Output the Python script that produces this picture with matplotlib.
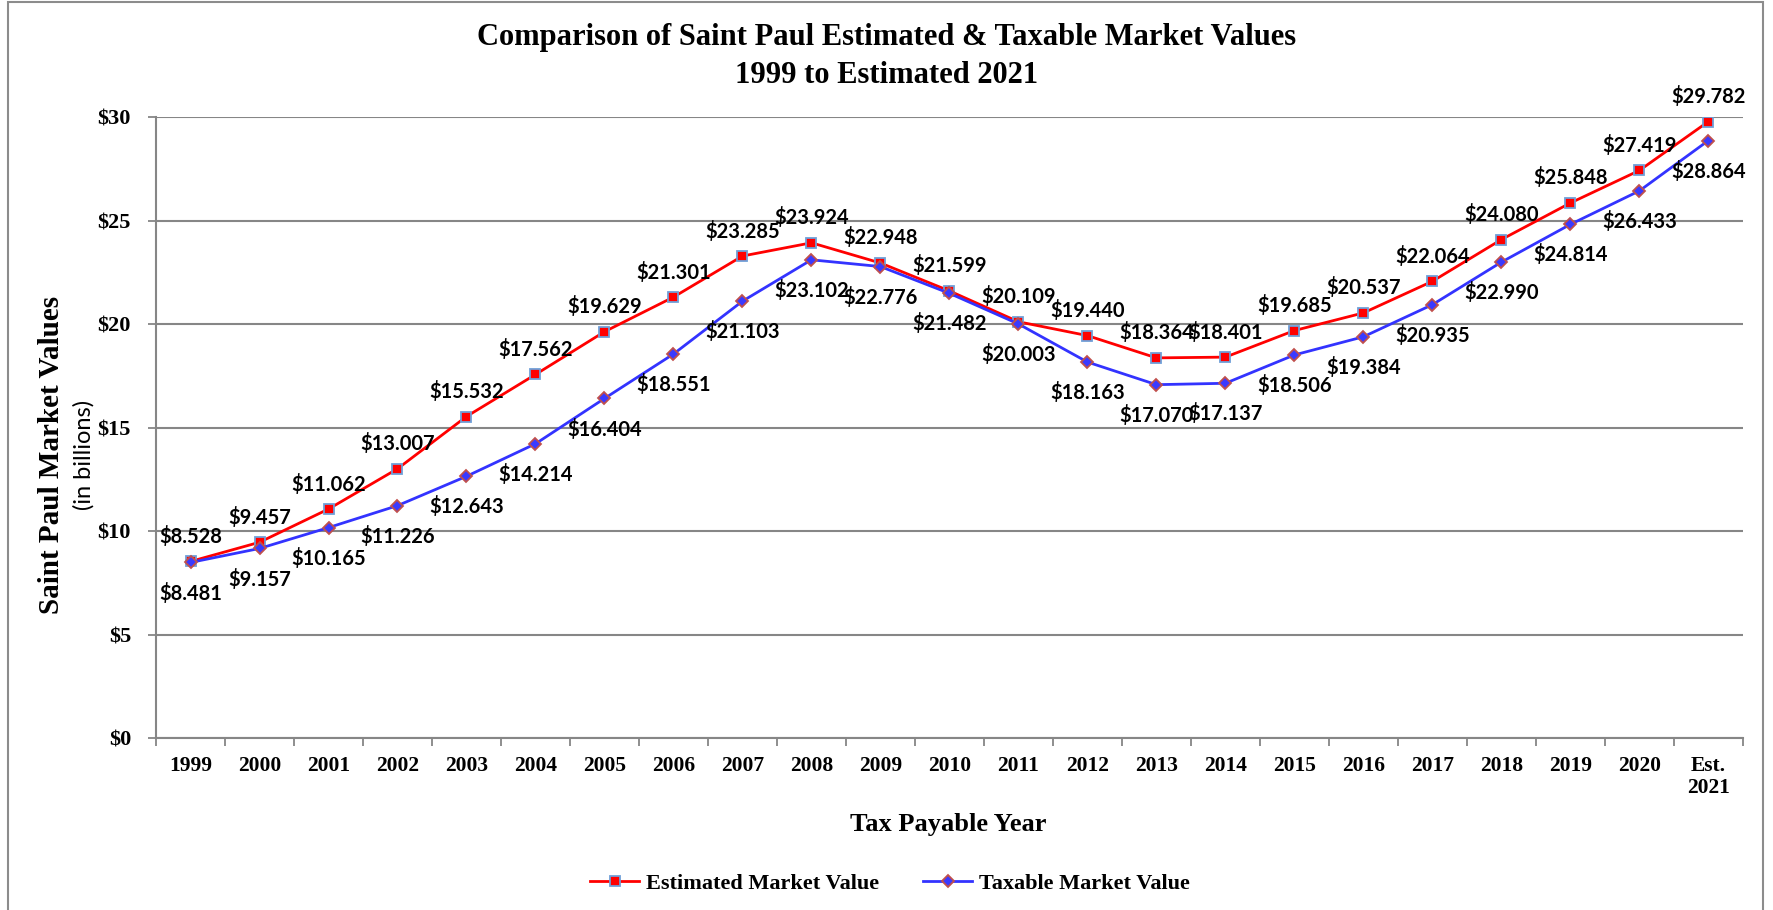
import matplotlib
matplotlib.use("Agg")
import matplotlib.pyplot as plt
from matplotlib.patches import Rectangle
import numpy as np

years = ["1999", "2000", "2001", "2002", "2003", "2004", "2005", "2006", "2007",
         "2008", "2009", "2010", "2011", "2012", "2013", "2014", "2015", "2016",
         "2017", "2018", "2019", "2020", "Est.\n2021"]
estimated = [8.528, 9.457, 11.062, 13.007, 15.532, 17.562, 19.629, 21.301, 23.285,
             23.924, 22.948, 21.599, 20.109, 19.440, 18.364, 18.401, 19.685, 20.537,
             22.064, 24.080, 25.848, 27.419, 29.782]
taxable = [8.481, 9.157, 10.165, 11.226, 12.643, 14.214, 16.404, 18.551, 21.103,
           23.102, 22.776, 21.482, 20.003, 18.163, 17.070, 17.137, 18.506, 19.384,
           20.935, 22.990, 24.814, 26.433, 28.864]
y_ticks = [0, 5, 10, 15, 20, 25, 30]

SERIF = "Liberation Serif"
SANS = "Lato"
GRID = "#868686"

fig = plt.figure(figsize=(17.73, 9.10), dpi=100)
ax = fig.add_axes([0.088, 0.189, 0.895, 0.6824])

x = np.arange(len(years))
ax.plot(x, estimated, color="#ff0000", lw=2, marker="s", markersize=7,
        markerfacecolor="#ff0000", markeredgecolor="#6f9fd8", markeredgewidth=1.3,
        label="Estimated Market Value", zorder=4)
ax.plot(x, taxable, color="#3333ff", lw=2, marker="D", markersize=6.5,
        markerfacecolor="#3a3aff", markeredgecolor="#c0504d", markeredgewidth=1.3,
        label="Taxable Market Value", zorder=5)

for xi, v in zip(x, estimated):
    ax.annotate(f"${v:.3f}", (xi, v), xytext=(0, 18), textcoords="offset points",
                ha="center", va="center", fontsize=14.5, fontweight="bold",
                family=SANS, color="black", zorder=6)
for xi, v in zip(x, taxable):
    ax.annotate(f"${v:.3f}", (xi, v), xytext=(0, -22), textcoords="offset points",
                ha="center", va="center", fontsize=14.5, fontweight="bold",
                family=SANS, color="black", zorder=6)

ax.set_xlim(-0.5, len(years) - 0.5)
ax.set_ylim(0, 30)
ax.set_yticks(y_ticks)
ax.set_yticklabels([f"${t}" for t in y_ticks], family=SERIF, fontweight="bold", fontsize=16)
ax.yaxis.grid(True, color=GRID, lw=1.5)
ax.set_axisbelow(True)

ax.set_xticks(np.arange(-0.5, len(years), 1.0))
ax.set_xticklabels([])
ax.set_xticks(x, minor=True)
ax.set_xticklabels(years, minor=True, family=SERIF, fontweight="bold", fontsize=15.5,
                   linespacing=1.1, va="top")
ax.tick_params(axis="x", which="major", length=6, width=1.3, color=GRID, direction="out")
ax.tick_params(axis="x", which="minor", length=0, pad=13)
ax.tick_params(axis="y", length=6, width=1.3, color=GRID, direction="out", pad=12)

for side in ("top", "right"):
    ax.spines[side].set_visible(False)
for side in ("left", "bottom"):
    ax.spines[side].set_color(GRID)
    ax.spines[side].set_linewidth(1.5)

fig.text(0.5, 0.959, "Comparison of Saint Paul Estimated & Taxable Market Values",
         ha="center", va="center", family=SERIF, fontweight="bold", fontsize=22)
fig.text(0.5, 0.917, "1999 to Estimated 2021",
         ha="center", va="center", family=SERIF, fontweight="bold", fontsize=22)

fig.text(0.029, 0.5, "Saint Paul Market Values", rotation=90, ha="center", va="center",
         family=SERIF, fontweight="bold", fontsize=21)
fig.text(0.047, 0.5, "(in billions)", rotation=90, ha="center", va="center",
         family=SANS, fontsize=17)

fig.text(0.535, 0.094, "Tax Payable Year", ha="center", va="center",
         family=SERIF, fontweight="bold", fontsize=19)

fig.legend(loc="center", bbox_to_anchor=(0.502, 0.029), ncol=2, frameon=False,
           prop={"family": SERIF, "weight": "bold", "size": 16},
           handlelength=2.2, columnspacing=2.0, handletextpad=0.3)

fig.patches.append(Rectangle((0.0045, -0.01), 0.990, 1.008, transform=fig.transFigure,
                             fill=False, edgecolor="#8c8c8c", lw=1.5))

fig.savefig("out.png", dpi=100)
